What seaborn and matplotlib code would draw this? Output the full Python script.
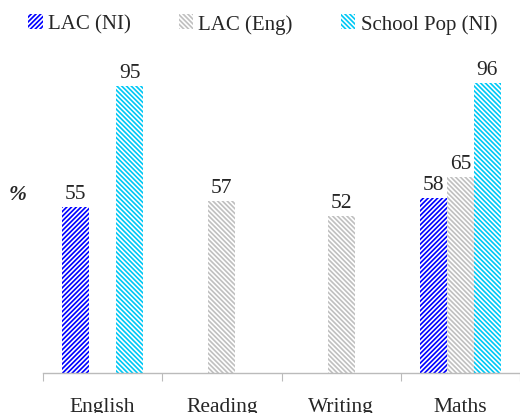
import numpy as np
import pandas as pd
import matplotlib
matplotlib.use("Agg")
import matplotlib.pyplot as plt
import matplotlib.patches as mpatches
import seaborn as sns

subjects = ["English", "Reading", "Writing", "Maths"]
groups = ["LAC (NI)", "LAC (Eng)", "School Pop (NI)"]
lac_ni = [55, np.nan, np.nan, 58]
lac_eng = [np.nan, 57, 52, 65]
school_pop = [95, np.nan, np.nan, 96]

colors = ["#0000FF", "#C0C0C0", "#00C8F5"]
hatches = ["/" * 7, "\\" * 7, "\\" * 7]

df = pd.DataFrame({"subject": subjects * 3,
                   "group": np.repeat(groups, 4),
                   "value": lac_ni + lac_eng + school_pop})

sns.set_style("white")
plt.rcParams["font.family"] = ["Liberation Serif", "DejaVu Serif"]
plt.rcParams["hatch.linewidth"] = 1.2

fs = 15.5
fig = plt.figure(figsize=(5.2, 4.14), dpi=100)
ax = fig.add_axes([43 / 520, 40 / 414, 477 / 520, 302 / 414])

sns.barplot(data=df, x="subject", y="value", hue="group", order=subjects,
            hue_order=groups, palette=colors, width=0.68, saturation=1,
            legend=False, ax=ax)

for cont, h in zip(ax.containers, hatches):
    for p in cont:
        p.set_hatch(h)
        p.set_edgecolor("white")
        p.set_linewidth(0)
    ax.bar_label(cont, fmt="%.0f", padding=3, fontsize=fs)

ax.set_xlim(-0.5, 3.5)
ax.set_ylim(0, 100)
ax.set_xlabel("")
ax.set_ylabel("")
ax.set_yticks([])
for s in ["left", "right", "top"]:
    ax.spines[s].set_visible(False)
ax.spines["bottom"].set_color("#BBBBBB")
ax.spines["bottom"].set_linewidth(1)

ax.set_xticks([-0.5, 0.5, 1.5, 2.5, 3.5])
ax.set_xticklabels([])
ax.set_xticks([0, 1, 2, 3], minor=True)
ax.set_xticklabels(subjects, minor=True, fontsize=fs)
ax.tick_params(axis="x", which="major", length=6, color="#BBBBBB", direction="out", bottom=True)
ax.tick_params(axis="x", which="minor", length=0, pad=17)

fig.text(18 / 520, 1 - 195 / 414, "%", fontsize=fs, fontweight="bold",
         fontstyle="italic", ha="center", va="center")

handles = [mpatches.Patch(facecolor=c, hatch=h, edgecolor="white", linewidth=0)
           for c, h in zip(colors, hatches)]
fig.legend(handles, groups, loc="center", bbox_to_anchor=(0.505, 1 - 25 / 414),
           ncol=3, frameon=False, fontsize=15, handlelength=0.7,
           handleheight=0.7, handletextpad=0.25, columnspacing=2.3)

fig.savefig("out.png", dpi=100)
